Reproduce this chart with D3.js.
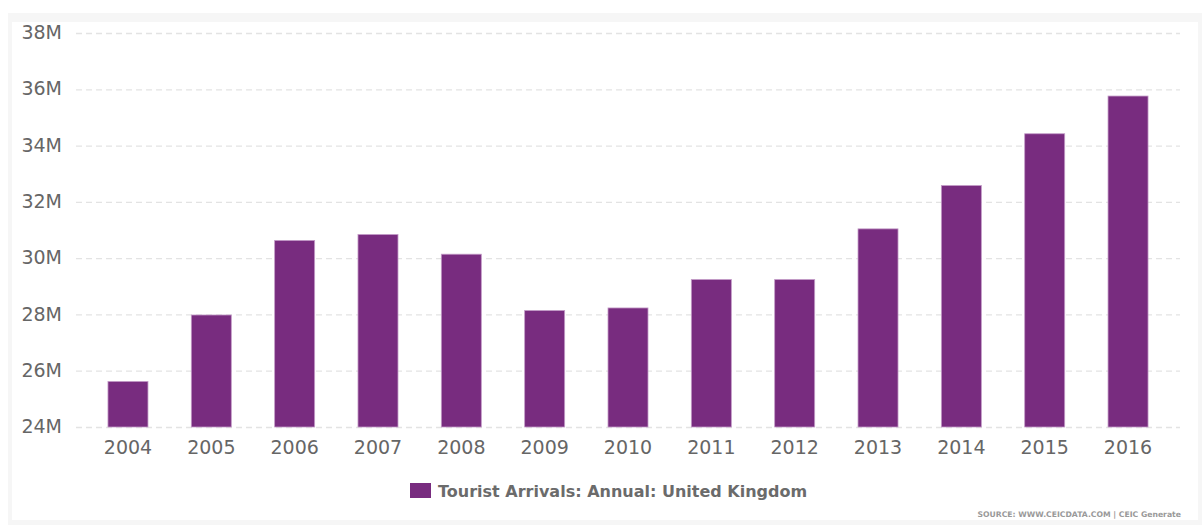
<!DOCTYPE html>
<html>
<head>
<meta charset="utf-8">
<script src="https://cdn.jsdelivr.net/npm/d3@7/dist/d3.min.js"></script>
<style>
  html, body { margin: 0; padding: 0; background: #ffffff; }
  svg { display: block; }
</style>
</head>
<body>
<script>
const years = ["2004","2005","2006","2007","2008","2009","2010","2011","2012","2013","2014","2015","2016"];
const arrivals = [25.62, 27.98, 30.63, 30.84, 30.14, 28.14, 28.23, 29.24, 29.24, 31.04, 32.58, 34.42, 35.76];
const yTicks = [24, 26, 28, 30, 32, 34, 36, 38];
const seriesName = "Tourist Arrivals: Annual: United Kingdom";
const sourceText = "SOURCE: WWW.CEICDATA.COM | CEIC Generate";

const W = 1202, H = 525;
const svg = d3.select("body").append("svg").attr("width", W).attr("height", H);

// frame
svg.append("rect").attr("x", 8).attr("y", 13).attr("width", W - 8).attr("height", H - 13).attr("fill", "#f6f6f6");
svg.append("rect").attr("x", 12).attr("y", 22).attr("width", W - 16).attr("height", 498).attr("fill", "#ffffff");

const x = d3.scaleBand().domain(years).range([86.3, 1169.7]).paddingInner(0.52).paddingOuter(0.26);
const y = d3.scaleLinear().domain([24, 38]).range([427, 33]);

// gridlines
svg.append("g").selectAll("line").data(yTicks).join("line")
  .attr("x1", 76).attr("x2", 1180)
  .attr("y1", d => y(d) + 0.5).attr("y2", d => y(d) + 0.5)
  .attr("stroke", "#e3e3e3").attr("stroke-width", 1.3).attr("stroke-dasharray", "6,4");

// y axis labels
const yAxis = d3.axisLeft(y).tickValues(yTicks).tickFormat(d => d + "M").tickSize(0).tickPadding(0);
const gy = svg.append("g").attr("transform", "translate(62,0)").call(yAxis);
gy.select(".domain").remove();
gy.selectAll("text").attr("font-family", "DejaVu Sans, Verdana, sans-serif").attr("font-size", 19).attr("fill", "#666666").attr("dy", "0.3em");

// bars
svg.append("g").selectAll("rect").data(arrivals).join("rect")
  .attr("x", (d, i) => x(years[i]))
  .attr("width", x.bandwidth())
  .attr("y", d => y(d))
  .attr("height", d => y(24) - y(d))
  .attr("fill", "#782c7f")
  .attr("stroke", "#c39bc7").attr("stroke-width", 0.8);

// x axis labels
const xAxis = d3.axisBottom(x).tickSize(0).tickPadding(0);
const gx = svg.append("g").attr("transform", "translate(0,440)").call(xAxis);
gx.select(".domain").remove();
gx.selectAll("text").attr("font-family", "DejaVu Sans, Verdana, sans-serif").attr("font-size", 19).attr("fill", "#666666").attr("dy", "0.71em");

// legend
svg.append("rect").attr("x", 410).attr("y", 483).attr("width", 21).attr("height", 15).attr("fill", "#782c7f");
svg.append("text").attr("x", 438).attr("y", 497).text(seriesName)
  .attr("font-family", "DejaVu Sans, Verdana, sans-serif").attr("font-size", 16).attr("font-weight", "bold").attr("fill", "#6b6b6b");

// source
svg.append("text").attr("x", 1181).attr("y", 517).attr("text-anchor", "end").text(sourceText)
  .attr("font-family", "DejaVu Sans, Verdana, sans-serif").attr("font-size", 7.7).attr("font-weight", "bold").attr("fill", "#999999");
</script>
</body>
</html>
